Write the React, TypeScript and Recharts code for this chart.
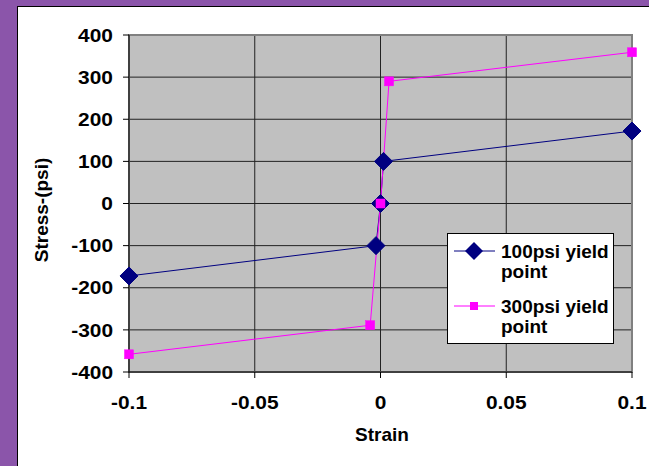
import React from 'react';
import { LineChart, Line, XAxis, YAxis, CartesianGrid, ReferenceArea, Legend } from 'recharts';

const series100 = [
  { strain: -0.1, stress: -172 },
  { strain: -0.0018, stress: -100 },
  { strain: 0, stress: 0 },
  { strain: 0.0012, stress: 100 },
  { strain: 0.1, stress: 172 },
];
const series300 = [
  { strain: -0.1, stress: -358 },
  { strain: -0.0041, stress: -289 },
  { strain: 0, stress: 0 },
  { strain: 0.0034, stress: 290 },
  { strain: 0.1, stress: 359 },
];
const xTicks = [-0.1, -0.05, 0, 0.05, 0.1];
const yTicks = [-400, -300, -200, -100, 0, 100, 200, 300, 400];
const seriesNames = ['100psi yield point', '300psi yield point'];

const FONT = 'Arial, "Liberation Sans", sans-serif';
const NAVY = '#000080';
const MAGENTA = '#FF00FF';

const Diamond = (props: any) => {
  const { cx, cy } = props;
  if (cx == null || cy == null) return null;
  const r = 9;
  return <polygon points={`${cx},${cy - r} ${cx + r},${cy} ${cx},${cy + r} ${cx - r},${cy}`} fill={NAVY} stroke={NAVY} />;
};
const Square = (props: any) => {
  const { cx, cy } = props;
  if (cx == null || cy == null) return null;
  const s = 9;
  return <rect x={cx - s / 2} y={cy - s / 2} width={s} height={s} fill={MAGENTA} stroke={MAGENTA} strokeWidth={0.5} />;
};

const XTick = (props: any) => {
  const { x, y, payload } = props;
  return (
    <g transform={`translate(${x},${y}) scale(1.1,1)`}>
      <text x={0} y={0} dy="0.71em" textAnchor="middle" fill="#000" fontSize={19} fontWeight="bold" fontFamily={FONT}>{String(payload.value)}</text>
    </g>
  );
};
const YTick = (props: any) => {
  const { x, y, payload } = props;
  return (
    <g transform={`translate(${x},${y}) scale(1.1,1)`}>
      <text x={0} y={0} dy="0.355em" textAnchor="end" fill="#000" fontSize={19} fontWeight="bold" fontFamily={FONT}>{String(payload.value)}</text>
    </g>
  );
};

const LegendContent = () => {
  const textStyle: React.CSSProperties = {
    position: 'absolute', left: 53, fontFamily: FONT, fontWeight: 'bold', fontSize: 19,
    lineHeight: '20px', color: '#000', whiteSpace: 'nowrap',
  };
  return (
    <div style={{ position: 'relative', width: 167, height: 111, background: '#fff', border: '1px solid #000', boxSizing: 'border-box' }}>
      <svg width={50} height={111} style={{ position: 'absolute', left: 0, top: 0 }}>
        <line x1={6} x2={47} y1={17} y2={17} stroke={NAVY} strokeWidth={1} />
        <polygon points="26,8 35,17 26,26 17,17" fill={NAVY} />
        <line x1={6} x2={47} y1={72} y2={72} stroke={MAGENTA} strokeWidth={1} />
        <rect x={22} y={68} width={8} height={8} fill={MAGENTA} />
      </svg>
      <div style={{ ...textStyle, top: 8 }}>100psi yield<br />point</div>
      <div style={{ ...textStyle, top: 63 }}>300psi yield<br />point</div>
    </div>
  );
};

export default function App() {
  return (
    <div style={{ position: 'absolute', left: 0, top: 0, width: 649, height: 466, background: '#8B55AA', overflow: 'hidden' }}>
      <div style={{ position: 'absolute', left: 17, top: 6, width: 632, height: 460, background: '#fff', borderLeft: '1px solid #000', borderTop: '1px solid #000', boxSizing: 'border-box' }} />
      <div style={{ position: 'absolute', left: 0, top: 0 }}>
        <LineChart width={649} height={466} margin={{ top: 35, right: 17, bottom: 64, left: 69 }}>
          <CartesianGrid stroke="#222" fill="#C0C0C0" fillOpacity={1} strokeWidth={1} />
          <XAxis
            type="number" dataKey="strain" domain={[-0.1, 0.1]} ticks={xTicks}
            height={30} tick={<XTick />} tickSize={6} tickMargin={18}
            axisLine={{ stroke: '#000' }} tickLine={{ stroke: '#000' }}
          />
          <YAxis
            type="number" dataKey="stress" domain={[-400, 400]} ticks={yTicks}
            width={60} tick={<YTick />} tickSize={6} tickMargin={10}
            axisLine={{ stroke: '#000' }} tickLine={{ stroke: '#000' }}
          />
          <ReferenceArea x1={-0.1} x2={0.1} y1={-400} y2={400} fill="none" stroke="#808080" strokeWidth={2} ifOverflow="visible" />
          <Line data={series100} dataKey="stress" name={seriesNames[0]} stroke={NAVY} strokeWidth={1} dot={<Diamond />} isAnimationActive={false} />
          <Line data={series300} dataKey="stress" name={seriesNames[1]} stroke={MAGENTA} strokeWidth={1} dot={<Square />} isAnimationActive={false} />
          <Legend layout="horizontal" verticalAlign="middle" align="center" content={<LegendContent />}
            wrapperStyle={{ left: 447, top: 233, width: 167, height: 111 }} />
        </LineChart>
      </div>
      <div style={{ position: 'absolute', left: 382, top: 424, transform: 'translateX(-50%)', fontFamily: FONT, fontWeight: 'bold', fontSize: 19, color: '#000', whiteSpace: 'nowrap' }}>Strain</div>
      <div style={{ position: 'absolute', left: 42, top: 210, transform: 'translate(-50%, -50%) rotate(-90deg)', fontFamily: FONT, fontWeight: 'bold', fontSize: 19, color: '#000', whiteSpace: 'nowrap' }}>Stress-(psi)</div>
    </div>
  );
}
